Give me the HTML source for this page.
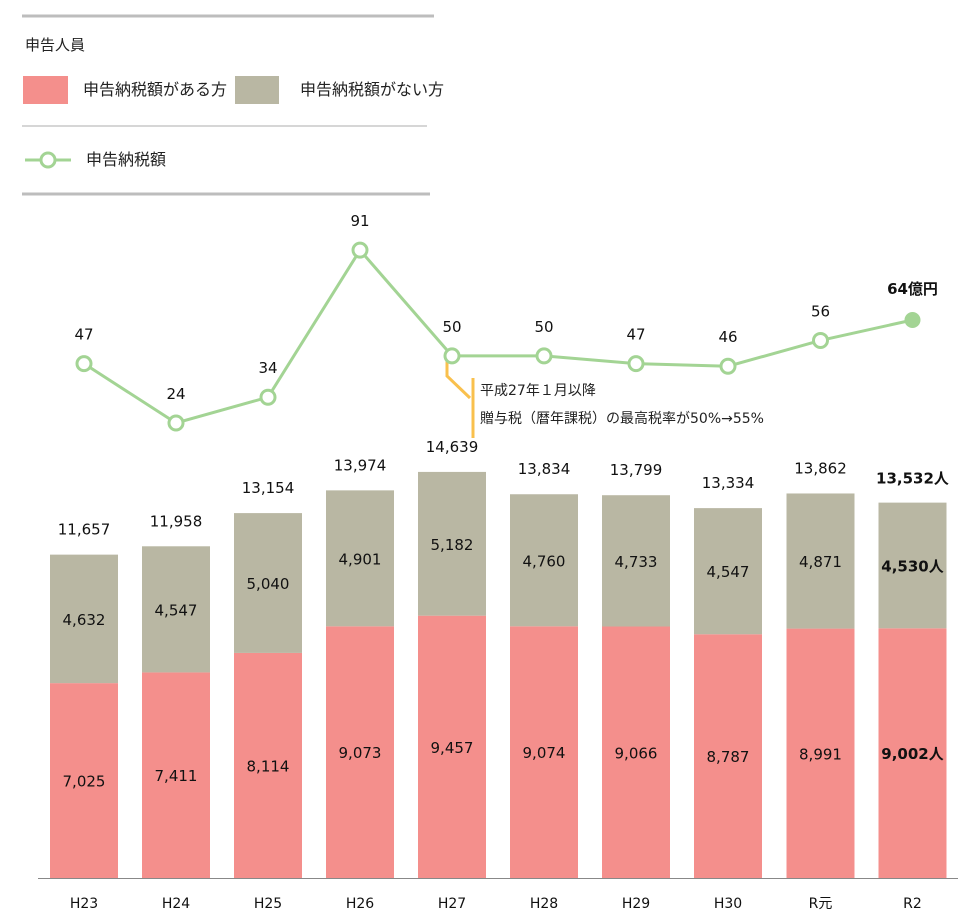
<!DOCTYPE html>
<html><head><meta charset="utf-8"><style>
html,body{margin:0;padding:0;background:#fff;}
svg{display:block;font-family:"DejaVu Sans","Noto Sans CJK JP",sans-serif;}
</style></head><body>
<svg id="s" width="958" height="914" viewBox="0 0 958 914" xmlns="http://www.w3.org/2000/svg">
<line x1="22" y1="16" x2="434" y2="16" stroke="#bdbdbd" stroke-width="3"/>
<text x="25" y="50" font-size="15" fill="#222" font-family="Noto Sans CJK JP, sans-serif">申告人員</text>
<rect x="23" y="76" width="45" height="28" fill="#f48f8c"/>
<text x="83" y="95" font-size="16" fill="#222" font-family="Noto Sans CJK JP, sans-serif">申告納税額がある方</text>
<rect x="235" y="76" width="44" height="28" fill="#b9b7a3"/>
<text x="300" y="95" font-size="16" fill="#222" font-family="Noto Sans CJK JP, sans-serif">申告納税額がない方</text>
<line x1="22" y1="126" x2="427" y2="126" stroke="#c8c8c8" stroke-width="1.5"/>
<line x1="25" y1="160" x2="71" y2="160" stroke="#a3d494" stroke-width="3"/>
<circle cx="48" cy="160" r="7" fill="#fff" stroke="#a3d494" stroke-width="3"/>
<text x="86" y="165" font-size="16" fill="#222" font-family="Noto Sans CJK JP, sans-serif">申告納税額</text>
<line x1="22" y1="194" x2="430" y2="194" stroke="#bdbdbd" stroke-width="3"/>
<line x1="38" y1="878.5" x2="958" y2="878.5" stroke="#888" stroke-width="1"/>
<polyline points="447,360 447,376 470,398" fill="none" stroke="#f9c04d" stroke-width="3"/>
<line x1="473" y1="378" x2="473" y2="438" stroke="#f9c04d" stroke-width="3"/>
<text x="480" y="395" font-size="14" fill="#222">平成27年１月以降</text>
<text x="480" y="423" font-size="14" fill="#222">贈与税（暦年課税）の最高税率が50%→55%</text>
<g id="g"></g>
</svg>
<script>
var L=["H23","H24","H25","H26","H27","H28","H29","H30","R元","R2"];
var P=[7025,7411,8114,9073,9457,9074,9066,8787,8991,9002];
var N=[4632,4547,5040,4901,5182,4760,4733,4547,4871,4530];
var V=[47,24,34,91,50,50,47,46,56,64];
var T=["11,657","11,958","13,154","13,974","14,639","13,834","13,799","13,334","13,862","13,532人"];
var f=function(n){return n.toLocaleString("en-US");};
var k=0.02774,B=878,h="";
var pts=[];
for(var i=0;i<10;i++){
 var cx=84+92*i+(i>=8?0.5:0);
 var ph=P[i]*k,nh=N[i]*k;
 var last=i==9,fw=last?' font-weight="bold"':'';
 h+='<rect x="'+(cx-34)+'" y="'+(B-ph)+'" width="68" height="'+ph+'" fill="#f48f8c"/>';
 h+='<rect x="'+(cx-34)+'" y="'+(B-ph-nh)+'" width="68" height="'+nh+'" fill="#b9b7a3"/>';
 h+='<text x="'+cx+'" y="'+(B-ph/2+6)+'" font-size="15" text-anchor="middle" fill="#111"'+fw+'>'+f(P[i])+(last?'人':'')+'</text>';
 h+='<text x="'+cx+'" y="'+(B-ph-nh/2+6)+'" font-size="15" text-anchor="middle" fill="#111"'+fw+'>'+f(N[i])+(last?'人':'')+'</text>';
 h+='<text x="'+cx+'" y="'+(B-ph-nh-(last?19:20))+'" font-size="15" text-anchor="middle" fill="#111"'+fw+'>'+T[i]+'</text>';
 h+='<text x="'+cx+'" y="908" font-size="14" text-anchor="middle" fill="#111">'+L[i]+'</text>';
 var y=423-(V[i]-24)*2.58;
 if(i==9)y=320;
 pts.push([cx,y]);
}
h+='<polyline points="'+pts.map(function(p){return p.join(",")}).join(" ")+'" fill="none" stroke="#a3d494" stroke-width="3"/>';
for(var i=0;i<10;i++){
 var p=pts[i];
 if(i==9){h+='<circle cx="'+p[0]+'" cy="'+p[1]+'" r="8" fill="#a3d494"/>';
  h+='<text x="'+p[0]+'" y="'+(p[1]-26)+'" font-size="15" font-weight="bold" text-anchor="middle" fill="#111">64億円</text>';}
 else{h+='<circle cx="'+p[0]+'" cy="'+p[1]+'" r="7" fill="#fff" stroke="#a3d494" stroke-width="3"/>';
  h+='<text x="'+p[0]+'" y="'+(p[1]-24)+'" font-size="15" text-anchor="middle" fill="#111">'+V[i]+'</text>';}
}
document.getElementById("g").innerHTML=h;
</script>
</body></html>
